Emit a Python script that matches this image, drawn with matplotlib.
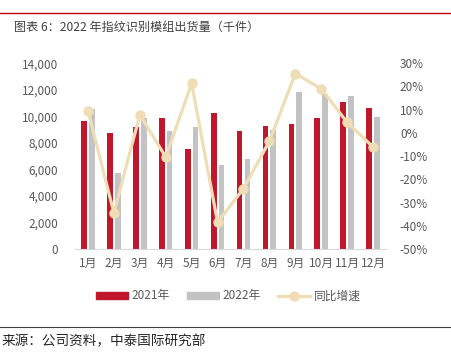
import matplotlib.pyplot as plt
import matplotlib.lines as mlines
import numpy as np

plt.rcParams['font.family'] = ['Noto Sans CJK SC', 'DejaVu Sans']

# data (thousand units)
months = ['1月', '2月', '3月', '4月', '5月', '6月', '7月', '8月', '9月', '10月', '11月', '12月']
ship_2021 = [9650, 8750, 9200, 9900, 7550, 10250, 8900, 9300, 9450, 9850, 11050, 10600]
ship_2022 = [10550, 5700, 9900, 8900, 9200, 6300, 6800, 8950, 11850, 11700, 11550, 9950]
yoy = [9.6, -34.5, 7.8, -10.4, 21.3, -38.5, -24.0, -3.6, 25.5, 19.0, 4.5, -6.1]

RED = '#C0172D'
GRAY = '#C3C3C3'
BEIGE = '#EFDDB6'
TXT = '#595959'

fig = plt.figure(figsize=(4.52, 3.63), dpi=100)
ax = fig.add_axes([0.166, 0.314, 0.688, 0.512])
ax2 = ax.twinx()

x = np.arange(len(months))
w = 0.22
ax.bar(x - 0.15, ship_2021, width=w, color=RED, label='2021年', zorder=2)
ax.bar(x + 0.15, ship_2022, width=w, color=GRAY, label='2022年', zorder=2)
ax2.plot(x, yoy, color=BEIGE, lw=2.3, marker='o', ms=6.5, zorder=3)

ax.set_xlim(-0.5, 11.5)
ax.set_ylim(0, 14000)
ax.set_yticks(range(0, 14001, 2000))
ax.set_yticklabels(['{:,}'.format(v) for v in range(0, 14001, 2000)])
ax2.set_ylim(-50, 30)
ax2.set_yticks(range(-50, 31, 10))
ax2.set_yticklabels(['{}%'.format(v) for v in range(-50, 31, 10)])
ax.set_xticks(x)
ax.set_xticklabels(months)

for a in (ax, ax2):
    for s in a.spines.values():
        s.set_visible(False)
    a.tick_params(length=0, labelsize=8.5, labelcolor=TXT)
ax.spines['bottom'].set_visible(True)
ax.spines['bottom'].set_color('#D9D9D9')
ax.tick_params(axis='y', pad=12)
ax.tick_params(axis='x', pad=6)
ax2.tick_params(axis='y', pad=10)

# legend
h1 = plt.Rectangle((0, 0), 1, 1, color=RED)
h2 = plt.Rectangle((0, 0), 1, 1, color=GRAY)
h3 = mlines.Line2D([], [], color=BEIGE, lw=2.3, marker='o', ms=6.5)
fig.legend([h1, h2, h3], ['2021年', '2022年', '同比增速'], ncol=3, frameon=False,
           loc='center', bbox_to_anchor=(0.505, 0.185), fontsize=8.5,
           handlelength=2.7, handleheight=0.5, columnspacing=1.5, handletextpad=0.3,
           labelcolor=TXT)

# header / footer
fig.add_artist(mlines.Line2D([0, 1], [1 - 13 / 363, 1 - 13 / 363], color='#C00000', lw=1.0))
fig.text(0.031, 1 - 27 / 363, '图表 6：2022 年指纹识别模组出货量（千件）', fontsize=8.7,
         color='#404040', va='center')
fig.add_artist(mlines.Line2D([0, 1], [1 - 327 / 363, 1 - 327 / 363], color='#404040', lw=0.8))
fig.text(0.004, 1 - 341 / 363, '来源：公司资料，中泰国际研究部', fontsize=9.8,
         color='#262626', va='center')

fig.savefig('out.png', dpi=100)
